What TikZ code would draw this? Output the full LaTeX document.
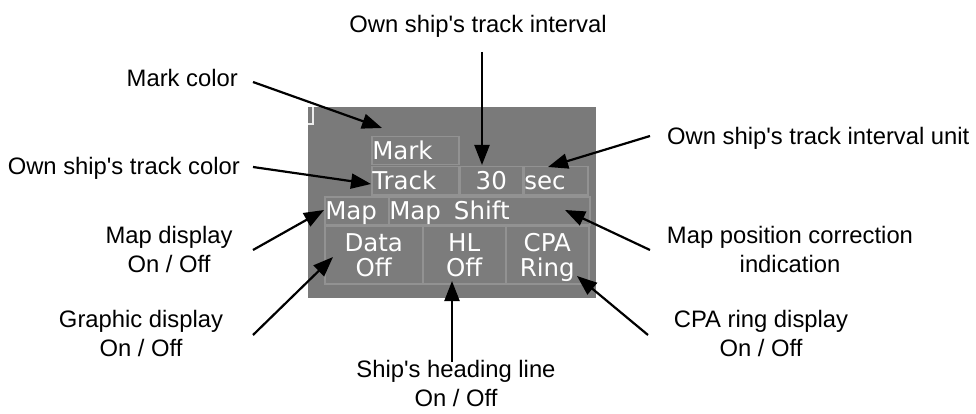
\documentclass[tikz,border=0pt]{standalone}
\usepackage{fontspec}
\setmainfont{Liberation Sans}
\newfontfamily\pixfont{DejaVu Sans}
\usetikzlibrary{arrows.meta}

\definecolor{panelgray}{RGB}{122,122,122}
\definecolor{keyedge}{RGB}{146,146,146}
\definecolor{keyfill}{RGB}{124,124,124}
\newcommand{\ap}{\textquotesingle}

\tikzset{
  key/.style={draw=keyedge, fill=keyfill, line width=1.5pt, inner sep=0pt,
    anchor=north west, text=white, text depth=0pt,
    font=\pixfont\fontsize{24.5}{25}\selectfont},
  keyone/.style={key, text height=17.5pt, minimum height=28pt},
  keyleft/.style={keyone, align=left, inner xsep=0.5pt},
  keytwo/.style={key, align=center, minimum height=58pt},
  callout/.style={font=\fontsize{23.8}{29}\selectfont, inner sep=0pt, align=center},
  pointer/.style={line width=2.2pt, -{Triangle[length=20pt,width=15pt]}},
}

\begin{document}
\begin{tikzpicture}[x=1pt, y=-1pt]
  \useasboundingbox (0,0) rectangle (976,414);

  % panel
  \fill[panelgray] (308,107) rectangle (596,298);
  \draw[white!85!gray, line width=1.5pt] (308,124) -- (313,124) -- (313,107);

  % keys
  \node[keyleft, text width=86pt] (mark)  at (371,136) {Mark};
  \node[keyleft, text width=86pt] (track) at (371,166) {Track};
  \node[keyone, minimum width=63pt] (intv) at (459,166) {30};
  \node[keyleft, text width=63pt] (unit)  at (523,166) {sec};
  \node[keyleft, text width=63pt] (map)   at (324,196) {Map};
  \node[keyleft, text width=200pt] (shift) at (388,196) {Map\hspace{13pt}Shift};
  \node[keytwo, minimum width=98pt] (data) at (324,225) {Data\\Off};
  \node[keytwo, minimum width=83pt] (hl)   at (422,225) {HL\\Off};
  \node[keytwo, minimum width=83pt] (cpa)  at (505,225) {CPA\\Ring};

  % labels
  \node[callout, anchor=north]     (intlbl)   at (478,15)  {Own ship\ap s track interval};
  \node[callout, anchor=base east] (marklbl)  at (238,87)  {Mark color};
  \node[callout, anchor=base east] (tracklbl) at (240,175) {Own ship\ap s track color};
  \node[callout, anchor=base west] (unitlbl)  at (667,145) {Own ship\ap s track interval unit};
  \node[callout, anchor=north] (shiftlbl) at (790,226) {Map position correction\\indication};
  \node[callout, anchor=north] (maplbl)   at (169,226) {Map display\\On / Off};
  \node[callout, anchor=north] (datalbl)  at (141,310) {Graphic display\\On / Off};
  \node[callout, anchor=north] (hllbl)    at (456,360) {Ship\ap s heading line\\On / Off};
  \node[callout, anchor=north] (cpalbl)   at (761,310) {CPA ring display\\On / Off};

  % arrows
  \coordinate (intS)   at (482,52);   \coordinate (intE)   at (482,165);
  \coordinate (markS)  at (253,82);   \coordinate (markE)  at (382,128);
  \coordinate (trackS) at (253,167);  \coordinate (trackE) at (371,184);
  \coordinate (unitS)  at (650,136);  \coordinate (unitE)  at (548,167);
  \coordinate (shiftS) at (650,250);  \coordinate (shiftE) at (565,210);
  \coordinate (mapS)   at (253,250);  \coordinate (mapE)   at (324,210);
  \coordinate (dataS)  at (253,335);  \coordinate (dataE)  at (333,257);
  \coordinate (hlS)    at (452,362);  \coordinate (hlE)    at (452,281);
  \coordinate (cpaS)   at (648,335);  \coordinate (cpaE)   at (577,276);

  \draw[pointer] (intS) -- (intE);
  \draw[pointer] (markS) -- (markE);
  \draw[pointer] (trackS) -- (trackE);
  \draw[pointer] (unitS) -- (unitE);
  \draw[pointer] (shiftS) -- (shiftE);
  \draw[pointer] (mapS) -- (mapE);
  \draw[pointer] (dataS) -- (dataE);
  \draw[pointer] (hlS) -- (hlE);
  \draw[pointer] (cpaS) -- (cpaE);
\end{tikzpicture}
\end{document}
